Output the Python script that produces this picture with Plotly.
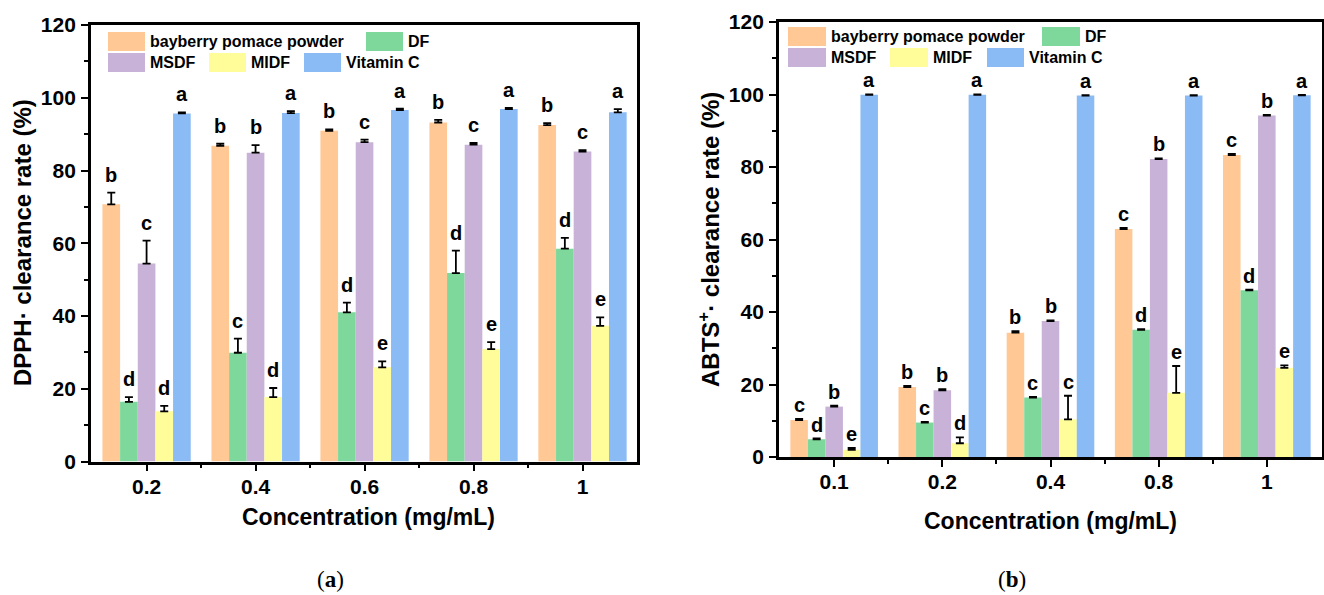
import plotly.graph_objects as go

W, H = 1324, 595

series = ["bayberry pomace powder", "DF", "MSDF", "MIDF", "Vitamin C"]
colors = ["#FFC895", "#7ED89B", "#C8B2D7", "#FFFC9A", "#8BBBF4"]

# ---- (a) DPPH ----
dpph_conc = ["0.2", "0.4", "0.6", "0.8", "1"]
dpph_bpp = [70.7, 86.8, 90.9, 93.2, 92.5]
dpph_bpp_err = [3.2, 0.6, 0.4, 0.7, 0.5]
dpph_df = [16.4, 29.9, 41.0, 51.8, 58.5]
dpph_df_err = [1.3, 3.9, 2.7, 6.2, 3.0]
dpph_msdf = [54.4, 84.9, 87.8, 87.1, 85.2]
dpph_msdf_err = [6.3, 2.1, 0.7, 0.5, 0.4]
dpph_midf = [13.8, 17.7, 25.9, 30.9, 37.3]
dpph_midf_err = [1.5, 2.5, 1.6, 1.9, 2.3]
dpph_vc = [95.7, 95.8, 96.6, 96.9, 96.0]
dpph_vc_err = [0.3, 0.5, 0.4, 0.3, 0.9]
dpph_let_bpp = ["b", "b", "b", "b", "b"]
dpph_let_df = ["d", "c", "d", "d", "d"]
dpph_let_msdf = ["c", "b", "c", "c", "c"]
dpph_let_midf = ["d", "d", "e", "e", "e"]
dpph_let_vc = ["a", "a", "a", "a", "a"]

# ---- (b) ABTS ----
abts_conc = ["0.1", "0.2", "0.4", "0.8", "1"]
abts_bpp = [10.2, 19.3, 34.3, 62.9, 83.3]
abts_bpp_err = [0.3, 0.3, 0.4, 0.3, 0.3]
abts_df = [4.9, 9.5, 16.4, 35.1, 46.0]
abts_df_err = [0.2, 0.2, 0.2, 0.2, 0.2]
abts_msdf = [13.9, 18.4, 37.5, 82.2, 94.2]
abts_msdf_err = [0.3, 0.3, 0.2, 0.2, 0.2]
abts_midf = [2.0, 3.8, 10.4, 17.7, 24.6]
abts_midf_err = [0.5, 1.6, 6.5, 7.4, 0.7]
abts_vc = [99.9, 99.9, 99.7, 99.7, 99.8]
abts_vc_err = [0.1, 0.1, 0.1, 0.1, 0.1]
abts_let_bpp = ["c", "b", "b", "c", "c"]
abts_let_df = ["d", "c", "c", "d", "d"]
abts_let_msdf = ["b", "b", "b", "b", "b"]
abts_let_midf = ["e", "d", "c", "e", "e"]
abts_let_vc = ["a", "a", "a", "a", "a"]

FONT = "Liberation Sans, Arial, sans-serif"
BARGAP = 0.19

def px(x):
    return x / W

def py(y):
    return 1 - y / H

fig = go.Figure()
annotations = []
shapes = []

panels = [
    dict(xa="x", ya="y", conc=dpph_conc,
         vals=[dpph_bpp, dpph_df, dpph_msdf, dpph_midf, dpph_vc],
         errs=[dpph_bpp_err, dpph_df_err, dpph_msdf_err, dpph_midf_err, dpph_vc_err],
         lets=[dpph_let_bpp, dpph_let_df, dpph_let_msdf, dpph_let_midf, dpph_let_vc],
         lshift=5),
    dict(xa="x2", ya="y2", conc=abts_conc,
         vals=[abts_bpp, abts_df, abts_msdf, abts_midf, abts_vc],
         errs=[abts_bpp_err, abts_df_err, abts_msdf_err, abts_midf_err, abts_vc_err],
         lets=[abts_let_bpp, abts_let_df, abts_let_msdf, abts_let_midf, abts_let_vc],
         lshift=1),
]

barw = (1 - BARGAP) / len(series)
for p in panels:
    xpos = list(range(len(p["conc"])))
    for i, name in enumerate(series):
        fig.add_trace(go.Bar(
            x=xpos, y=p["vals"][i], name=name, xaxis=p["xa"], yaxis=p["ya"],
            marker=dict(color=colors[i], line=dict(width=0)),
            error_y=dict(type="data", array=p["errs"][i],
                         arrayminus=[0] * len(xpos), symmetric=False,
                         color="black", thickness=1.8, width=4),
            showlegend=False,
        ))
        for j, x in enumerate(xpos):
            annotations.append(dict(
                x=x + (i - 2) * barw, y=p["vals"][i][j] + p["errs"][i][j],
                xref=p["xa"], yref=p["ya"], text=p["lets"][i][j],
                showarrow=False, xanchor="center", yanchor="bottom", yshift=p["lshift"],
                font=dict(family=FONT, size=20, color="black", weight="bold"),
            ))

axis_common = dict(
    showline=True, linecolor="black", linewidth=2.8, mirror=True,
    ticks="outside", tickcolor="black", tickwidth=2, showgrid=False,
    zeroline=False, automargin=False,
    tickfont=dict(family=FONT, size=21, color="black", weight="bold"),
)

fig.update_layout(
    template="none",
    width=W, height=H, margin=dict(l=0, r=0, t=0, b=0, pad=0, autoexpand=False),
    paper_bgcolor="white", plot_bgcolor="white", showlegend=False,
    barmode="group", bargap=BARGAP, bargroupgap=0,
    xaxis=dict(domain=[px(91), px(637)], anchor="y", range=[-0.51, 4.5],
               tickmode="array", tickvals=list(range(5)), ticktext=dpph_conc,
               ticklen=7, ticklabelstandoff=-3,
               minor=dict(tickmode="array", tickvals=[0.5, 1.5, 2.5, 3.5],
                          ticks="outside", ticklen=4, tickwidth=2, tickcolor="black"),
               **axis_common),
    yaxis=dict(domain=[py(461.5), py(25)], anchor="x", range=[0, 120],
               tickmode="linear", tick0=0, dtick=20, ticklen=7,
               ticklabelstandoff=1,
               minor=dict(dtick=10, ticks="outside", ticklen=4, tickwidth=2, tickcolor="black"),
               **axis_common),
    xaxis2=dict(domain=[px(779), px(1322)], anchor="y2", range=[-0.51, 4.51],
                tickmode="array", tickvals=list(range(5)), ticktext=abts_conc,
                ticklen=7, ticklabelstandoff=-3,
                minor=dict(tickmode="array", tickvals=[0.5, 1.5, 2.5, 3.5],
                           ticks="outside", ticklen=4, tickwidth=2, tickcolor="black"),
                **axis_common),
    yaxis2=dict(domain=[py(457), py(22)], anchor="x2", range=[0, 120],
                tickmode="linear", tick0=0, dtick=20, ticklen=7,
                ticklabelstandoff=1,
                minor=dict(dtick=10, ticks="outside", ticklen=4, tickwidth=2, tickcolor="black"),
                **axis_common),
)

# axis titles and captions
xtitle_font = dict(family=FONT, size=23, color="black", weight="bold")
ytitle_font = dict(family=FONT, size=24, color="black", weight="bold")
serif = dict(family="Liberation Serif, Times New Roman, serif", size=23, color="black")
common_ann = dict(xref="paper", yref="paper", showarrow=False, xanchor="center", yanchor="middle")
annotations += [
    dict(x=px(22), y=py(243), text="DPPH· clearance rate (%)", textangle=-90,
         font=ytitle_font, **common_ann),
    dict(x=px(368), y=py(517), text="Concentration (mg/mL)", font=xtitle_font, **common_ann),
    dict(x=px(709), y=py(240), text="ABTS<sup>+</sup>· clearance rate (%)", textangle=-90,
         font=ytitle_font, **common_ann),
    dict(x=px(1050), y=py(521), text="Concentration (mg/mL)", font=xtitle_font, **common_ann),
    dict(x=px(330), y=py(579), text="(<b>a</b>)", font=serif, **common_ann),
    dict(x=px(1012), y=py(579), text="(<b>b</b>)", font=serif, **common_ann),
]

# manual legends (swatch rects + labels), in pixel positions
legend_font = dict(family=FONT, size=16, color="black", weight="bold")
legends = [
    # (series index, swatch x0, swatch x1, row y0, row y1)
    [(0, 108, 145, 32, 51), (1, 366, 403, 32, 51),
     (2, 108, 145, 53, 72), (3, 209, 246, 53, 72), (4, 304, 341, 53, 72)],
    [(0, 788, 826, 27, 46), (1, 1042, 1080, 27, 46),
     (2, 788, 826, 48, 67), (3, 890, 928, 48, 67), (4, 987, 1024, 48, 67)],
]
for leg in legends:
    for (si, x0, x1, y0, y1) in leg:
        shapes.append(dict(type="rect", xref="paper", yref="paper",
                           x0=px(x0), x1=px(x1), y0=py(y1), y1=py(y0),
                           fillcolor=colors[si], line=dict(width=0)))
        annotations.append(dict(x=px(x1 + 3), y=py((y0 + y1) / 2), xref="paper", yref="paper",
                                text=series[si], showarrow=False, xanchor="left",
                                yanchor="middle", font=legend_font))

fig.update_layout(annotations=annotations, shapes=shapes)
fig.write_html("out.html", config={"displayModeBar": False},
               post_script="document.body.style.margin='0px';document.body.style.overflow='hidden';")
